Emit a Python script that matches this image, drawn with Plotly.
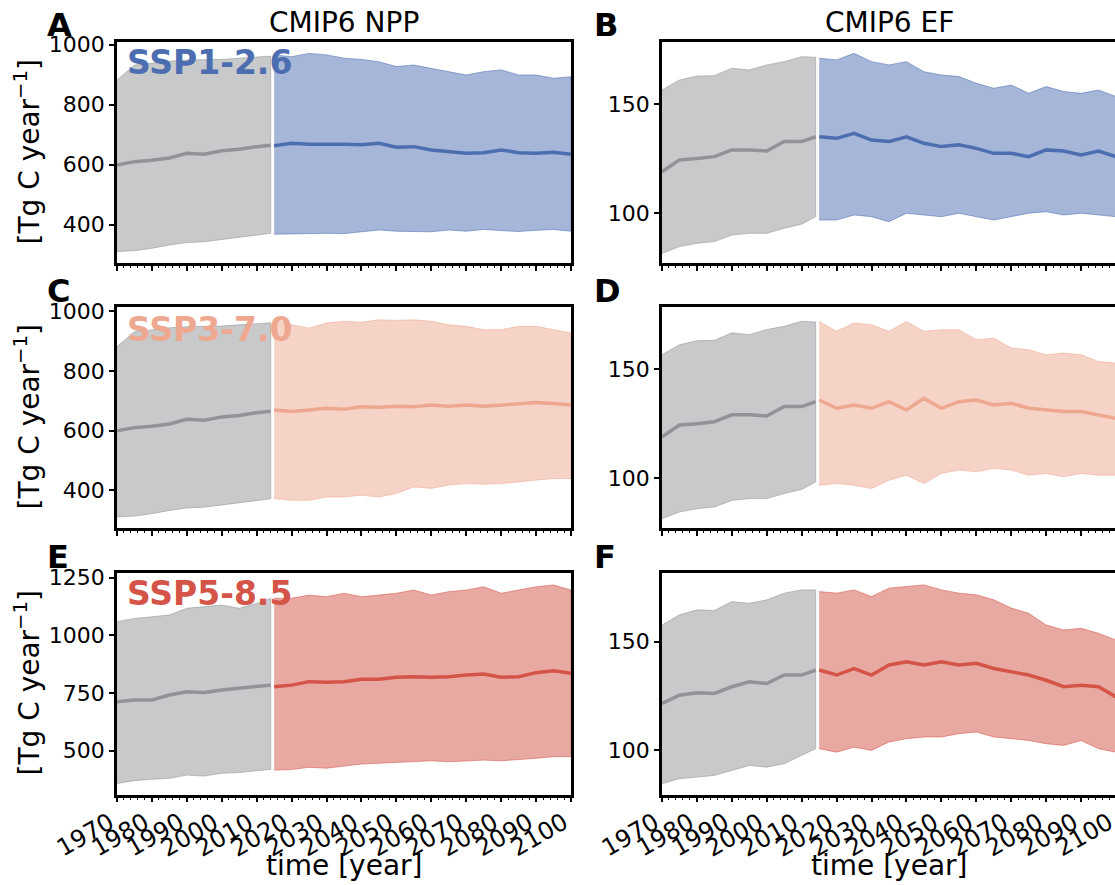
import plotly.graph_objects as go

# ---------------- data ----------------
hist_years = [1970, 1975, 1980, 1985, 1990, 1995, 2000, 2005, 2010, 2014]
fut_years = [2015, 2020, 2025, 2030, 2035, 2040, 2045, 2050, 2055,
             2060, 2065, 2070, 2075, 2080, 2085, 2090, 2095, 2100]

# NPP historical (panels A, C)
npp_hist_upper = [882, 932, 938, 945, 949, 950, 951, 955, 960, 962]
npp_hist_mean = [599, 610, 615, 622, 638, 635, 646, 651, 660, 665]
npp_hist_lower = [310, 313, 321, 332, 340, 343, 351, 358, 365, 371]

# NPP SSP1-2.6 (A)
npp126_upper = [966, 960, 971, 966, 955, 951, 943, 927, 932, 921, 910, 899, 910, 916, 899, 899, 888, 893]
npp126_mean = [663, 671, 668, 669, 668, 666, 671, 658, 660, 649, 643, 638, 640, 649, 640, 638, 641, 635]
npp126_lower = [368, 371, 370, 371, 370, 376, 382, 378, 377, 376, 382, 378, 384, 380, 377, 381, 384, 378]

# EF historical (panels B, D)
ef_hist_upper = [156.4, 161.0, 162.8, 163.0, 166.4, 165.6, 167.9, 169.4, 171.7, 171.4]
ef_hist_mean = [119.0, 124.4, 125.0, 125.9, 129.0, 129.0, 128.5, 132.8, 132.8, 135.0]
ef_hist_lower = [81.6, 84.7, 86.2, 87.0, 90.0, 90.8, 90.8, 93.1, 95.0, 98.4]

# EF SSP1-2.6 (B)
ef126_upper = [171.0, 170.2, 173.2, 169.4, 167.9, 169.4, 164.8, 163.3, 162.6, 159.5, 157.2, 158.7, 154.9, 158.0, 155.7, 154.9, 156.4, 153.4]
ef126_mean = [135.0, 134.3, 136.6, 133.5, 132.8, 135.0, 132.0, 130.5, 131.3, 129.7, 127.4, 127.4, 125.9, 129.0, 128.5, 126.7, 128.5, 125.9]
ef126_lower = [96.9, 96.9, 99.2, 98.4, 96.1, 100.0, 99.2, 98.4, 100.0, 98.4, 96.9, 98.4, 100.0, 100.7, 99.2, 100.0, 99.2, 98.4]

# NPP SSP3-7.0 (C)
npp370_upper = [972, 955, 944, 961, 967, 964, 972, 970, 972, 967, 955, 950, 939, 939, 950, 950, 939, 928]
npp370_mean = [669, 664, 669, 675, 672, 680, 678, 682, 680, 686, 682, 686, 682, 686, 688, 694, 691, 686]
npp370_lower = [372, 366, 366, 377, 377, 383, 377, 389, 411, 406, 417, 422, 420, 422, 428, 434, 439, 439]

# EF SSP3-7.0 (D)
ef370_upper = [171.6, 167.1, 170.9, 170.1, 167.1, 171.6, 167.1, 167.8, 167.8, 163.3, 164.0, 159.5, 158.7, 156.4, 157.2, 156.4, 153.3, 152.6]
ef370_mean = [135.8, 132.0, 133.5, 132.0, 135.0, 131.2, 136.6, 132.0, 135.0, 135.8, 133.5, 134.3, 132.0, 131.2, 130.5, 130.5, 129.0, 127.4]
ef370_lower = [96.9, 97.7, 96.9, 95.4, 99.2, 101.5, 97.7, 102.3, 103.8, 103.0, 104.6, 103.8, 101.5, 102.3, 100.8, 102.3, 101.5, 101.5]

# NPP historical (panel E)
npp85_hist_upper = [1059, 1073, 1080, 1088, 1117, 1124, 1131, 1117, 1138, 1160]
npp85_hist_mean = [712, 719, 720, 741, 755, 752, 763, 770, 780, 784]
npp85_hist_lower = [358, 370, 376, 380, 394, 390, 402, 405, 413, 419]

# NPP SSP5-8.5 (E)
npp585_upper = [1160, 1160, 1174, 1167, 1182, 1167, 1174, 1182, 1196, 1174, 1189, 1196, 1210, 1182, 1196, 1210, 1218, 1196]
npp585_mean = [777, 784, 799, 796, 799, 809, 809, 818, 820, 818, 820, 828, 832, 818, 820, 838, 846, 835]
npp585_lower = [416, 418, 428, 424, 433, 442, 445, 448, 452, 456, 452, 456, 459, 456, 462, 467, 474, 474]

# EF historical (panel F)
ef85_hist_upper = [157.7, 162.4, 164.7, 164.4, 168.5, 167.7, 169.3, 172.4, 173.9, 173.9]
ef85_hist_mean = [121.6, 125.4, 126.5, 126.2, 129.3, 131.6, 130.8, 134.7, 134.7, 137.0]
ef85_hist_lower = [84.6, 87.0, 87.7, 88.5, 90.8, 93.1, 92.3, 93.9, 97.7, 100.8]

# EF SSP5-8.5 (F)
ef585_upper = [173.1, 172.4, 173.9, 170.8, 174.7, 175.4, 176.2, 173.9, 172.4, 171.6, 169.3, 165.5, 163.1, 157.7, 155.4, 156.2, 153.9, 150.8]
ef585_mean = [137.0, 134.7, 137.7, 134.7, 139.3, 140.8, 139.3, 140.8, 139.3, 140.1, 137.7, 136.2, 134.7, 132.3, 129.3, 130.0, 129.3, 124.6]
ef585_lower = [100.8, 99.2, 101.5, 100.0, 103.9, 105.4, 106.2, 106.2, 107.7, 108.5, 106.2, 105.4, 104.6, 103.1, 102.3, 104.6, 100.8, 99.2]

scenario_names = ["SSP1-2.6", "SSP3-7.0", "SSP5-8.5"]
column_titles = ["CMIP6 NPP", "CMIP6 EF"]
panel_letters = ["A", "B", "C", "D", "E", "F"]
x_tick_vals = list(range(1970, 2101, 10))

# ---------------- styling ----------------
FONT = "DejaVu Sans"
W, H = 1115, 885
GRAY = (145, 147, 151)
SCEN_COLORS = [(76, 110, 177), (238, 168, 144), (212, 84, 72)]
X0, X1 = 1970, 2100


def rgba(c, a):
    return f"rgba({c[0]},{c[1]},{c[2]},{a})"


panels = [
    ((npp_hist_upper, npp_hist_mean, npp_hist_lower), (npp126_upper, npp126_mean, npp126_lower), 0, [272, 1009], 200),
    ((ef_hist_upper, ef_hist_mean, ef_hist_lower), (ef126_upper, ef126_mean, ef126_lower), 0, [77.2, 178.4], 50),
    ((npp_hist_upper, npp_hist_mean, npp_hist_lower), (npp370_upper, npp370_mean, npp370_lower), 1, [273, 1015], 200),
    ((ef_hist_upper, ef_hist_mean, ef_hist_lower), (ef370_upper, ef370_mean, ef370_lower), 1, [77.4, 178.2], 50),
    ((npp85_hist_upper, npp85_hist_mean, npp85_hist_lower), (npp585_upper, npp585_mean, npp585_lower), 2, [310, 1272], 250),
    ((ef85_hist_upper, ef85_hist_mean, ef85_hist_lower), (ef585_upper, ef585_mean, ef585_lower), 2, [79.7, 181.9], 50),
]

rows_px = [(42, 263), (307, 528), (572.5, 794.5)]
cols_px = [(117, 571), (662, 1116)]

fig = go.Figure()
layout = dict(
    width=W, height=H, autosize=False,
    margin=dict(l=0, r=0, t=0, b=0, pad=0, autoexpand=False),
    paper_bgcolor="white", plot_bgcolor="white",
    font=dict(family=FONT, size=22, color="black"),
    showlegend=False,
)
annotations = []


def add_band(years, up, mean, lo, color, xa, ya):
    fig.add_trace(go.Scatter(
        x=list(years) + list(years)[::-1],
        y=list(up) + list(lo)[::-1],
        fill="toself", fillcolor=rgba(color, 0.5),
        line=dict(color=rgba(color, 0.55), width=1),
        mode="lines", hoverinfo="skip", xaxis=xa, yaxis=ya))
    fig.add_trace(go.Scatter(
        x=years, y=mean, mode="lines",
        line=dict(color=rgba(color, 1), width=3.5),
        hoverinfo="skip", xaxis=xa, yaxis=ya))


for i, (hist, fut, si, yr, dt) in enumerate(panels):
    row, col = divmod(i, 2)
    n = i + 1
    xa, ya = ("x" if n == 1 else f"x{n}"), ("y" if n == 1 else f"y{n}")
    add_band(hist_years, *hist, GRAY, xa, ya)
    add_band(fut_years, *fut, SCEN_COLORS[si], xa, ya)

    top, bot = rows_px[row]
    cl, cr = cols_px[col]
    if cr <= W:
        xd = [cl / W, cr / W]
        xr = [X0, X1]
    else:
        xd = [cl / W, 1.0]
        xr = [X0, X0 + (X1 - X0) * (W - cl) / (cr - cl)]
    yd = [1 - bot / H, 1 - top / H]

    xkey = "xaxis" if n == 1 else f"xaxis{n}"
    ykey = "yaxis" if n == 1 else f"yaxis{n}"
    layout[xkey] = dict(
        domain=xd, range=xr, anchor=ya, automargin=False,
        tickvals=x_tick_vals,
        ticks="outside", ticklen=5, tickwidth=1.5, tickcolor="black",
        showline=True, linewidth=2.5, linecolor="black", mirror=True,
        showgrid=False, zeroline=False, showticklabels=False,
        minor=dict(dtick=2, tick0=1970, ticks="outside", ticklen=2.5,
                   tickwidth=1, tickcolor="black", showgrid=False),
    )
    layout[ykey] = dict(
        domain=yd, range=yr, anchor=xa, dtick=dt, tick0=0, automargin=False,
        ticks="outside", ticklen=5, tickwidth=1.5, tickcolor="black",
        showline=True, linewidth=2.5, linecolor="black", mirror=(col == 0),
        showgrid=False, zeroline=False,
        tickfont=dict(size=22, family=FONT),
    )

    # rotated x tick labels (bottom row), anchored at top-right like matplotlib
    if row == 2:
        for v in x_tick_vals:
            px = cl + (v - X0) / (X1 - X0) * (cr - cl)
            annotations.append(dict(
                text=str(v), xref="paper", yref="paper",
                x=(px + 3) / W, y=1 - (bot + 12) / H,
                xanchor="right", yanchor="top", textangle=-30,
                showarrow=False, borderpad=0,
                font=dict(size=24, family=FONT, color="black")))

    lx = 45 if col == 0 else 592
    ly = [25, 291, 557][row]
    annotations.append(dict(
        text=f"<b>{panel_letters[i]}</b>", xref="paper", yref="paper",
        x=lx / W, y=1 - ly / H, xanchor="left", yanchor="middle",
        showarrow=False, font=dict(size=32, family=FONT, color="black")))

for r, name in enumerate(scenario_names):
    cy = [62, 329, 593.5][r]
    annotations.append(dict(
        text=f"<b>{name}</b>", xref="paper", yref="paper",
        x=125 / W, y=1 - cy / H, xanchor="left", yanchor="middle",
        showarrow=False, font=dict(size=33, family=FONT, color=rgba(SCEN_COLORS[r], 1))))

for c, t in enumerate(column_titles):
    cx = sum(cols_px[c]) / 2
    annotations.append(dict(
        text=t, xref="paper", yref="paper", x=cx / W, y=1 - 22 / H,
        xanchor="center", yanchor="middle", showarrow=False,
        font=dict(size=28, family=FONT, color="black")))
    annotations.append(dict(
        text="time [year]", xref="paper", yref="paper", x=cx / W, y=1 - 865 / H,
        xanchor="center", yanchor="middle", showarrow=False,
        font=dict(size=28, family=FONT, color="black")))

for r in range(3):
    top, bot = rows_px[r]
    annotations.append(dict(
        text="[Tg C year<sup>−1</sup>]", xref="paper", yref="paper",
        x=28 / W, y=1 - (top + bot) / 2 / H, xanchor="center", yanchor="middle",
        textangle=-90, showarrow=False,
        font=dict(size=28, family=FONT, color="black")))

layout["annotations"] = annotations
fig.update_layout(**layout)
fig.write_html(
    "out.html",
    config={"displayModeBar": False},
    post_script="document.body.style.margin='0px';document.body.style.overflow='hidden';",
)
